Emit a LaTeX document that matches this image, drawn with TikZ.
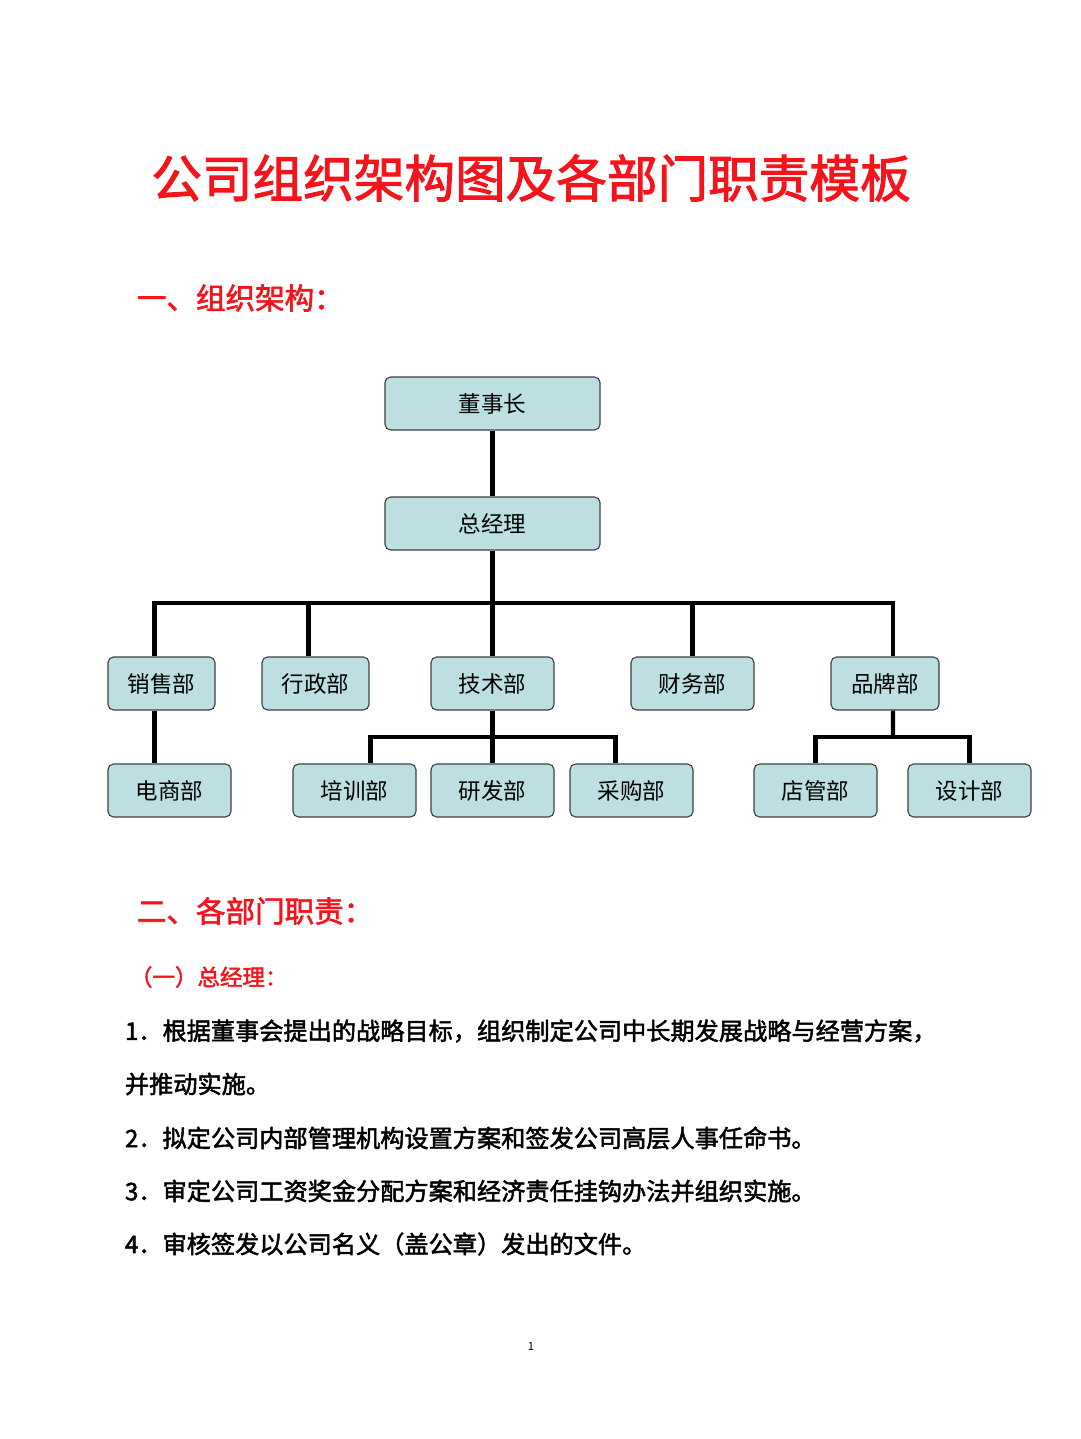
\documentclass[tikz,border=0pt]{standalone}
\usepackage{fontspec}
\setmainfont{Noto Sans CJK SC}
\newfontfamily\heavy[FakeBold=2]{Noto Sans CJK SC}
\definecolor{boxfill}{HTML}{BCDFE1}
\definecolor{titlered}{HTML}{F5141B}
\begin{document}
\begin{tikzpicture}[x=0.025cm, y=-0.025cm,
    every node/.style={align=left},
    post/.style={draw=black!75, fill=boxfill, rounded corners=4pt, thick, minimum height=1.325cm, font=\fontsize{16}{18}\selectfont, inner sep=0pt},
    link/.style={draw, line width=3pt},
    body/.style={anchor=west, font=\heavy\fontsize{17.2}{19}\selectfont},
    ]
\useasboundingbox (0,0) rectangle (1080,1439);
\node[text=titlered, font=\heavy\fontsize{36}{40}\selectfont] (title) at (531,178) {公司组织架构图及各部门职责模板};
\node[body, text=titlered, font=\heavy\fontsize{21}{24}\selectfont] (sec1) at (132,298) {一、组织架构：};
% posts
\node[post, minimum width=5.375cm] (dsz) at (492.5,403.5) {董事长};
\node[post, minimum width=5.375cm] (zjl) at (492.5,523.5) {总经理};
\node[post, minimum width=2.675cm] (xsb) at (161.5,683.5) {销售部};
\node[post, minimum width=2.675cm] (xzb) at (315.5,683.5) {行政部};
\node[post, minimum width=3.075cm] (jsb) at (492.5,683.5) {技术部};
\node[post, minimum width=3.075cm] (cwb) at (692.5,683.5) {财务部};
\node[post, minimum width=2.7cm] (ppb) at (885,683.5) {品牌部};
\node[post, minimum width=3.075cm] (dsb) at (169.5,790.5) {电商部};
\node[post, minimum width=3.075cm] (pxb) at (354.5,790.5) {培训部};
\node[post, minimum width=3.075cm] (yfb) at (492.5,790.5) {研发部};
\node[post, minimum width=3.075cm] (cgb) at (631.5,790.5) {采购部};
\node[post, minimum width=3.075cm] (dgb) at (815.5,790.5) {店管部};
\node[post, minimum width=3.075cm] (sjb) at (969.5,790.5) {设计部};
% bus points
\coordinate (bus) at (492.5,603);
\coordinate (jsbus) at (492.5,737);
\coordinate (ppbus) at (893,737);
\draw[link] (dsz) -- (zjl);
\draw[link] (zjl) -- (bus);
\draw[link] (bus) -| ([xshift=-0.175cm]xsb.north);
\draw[link] (bus) -| ([xshift=-0.175cm]xzb.north);
\draw[link] (bus) -- (jsb);
\draw[link] (bus) -| (cwb.north);
\draw[link] (bus) -| ([xshift=0.2cm]ppb.north);
\draw[link] ([xshift=-0.175cm]xsb.south) -- ([xshift=-0.175cm]xsb.south |- dsb.north);
\draw[link] (jsb) -- (yfb);
\draw[link] (jsbus) -| ([xshift=0.4cm]pxb.north);
\draw[link] (jsbus) -| ([xshift=-0.4cm]cgb.north);
\draw[link] ([xshift=0.2cm]ppb.south) -- (ppbus);
\draw[link] (ppbus) -| (dgb.north);
\draw[link] (ppbus) -| (sjb.north);
% duties
\node[body, text=titlered, font=\heavy\fontsize{21}{24}\selectfont] (sec2) at (132,911) {二、各部门职责：};
\node[body, text=titlered, font=\heavy\fontsize{16}{18}\selectfont] (sub1) at (125,977) {（一）总经理：};
\node[body] (l1) at (120,1031) {1．根据董事会提出的战略目标，组织制定公司中长期发展战略与经营方案，};
\node[body] (l1b) at (120,1084) {并推动实施。};
\node[body] (l2) at (120,1138) {2．拟定公司内部管理机构设置方案和签发公司高层人事任命书。};
\node[body] (l3) at (120,1191) {3．审定公司工资奖金分配方案和经济责任挂钩办法并组织实施。};
\node[body] (l4) at (120,1244) {4．审核签发以公司名义（盖公章）发出的文件。};
\node[font=\footnotesize] (page) at (531,1346) {1};
\end{tikzpicture}
\end{document}
